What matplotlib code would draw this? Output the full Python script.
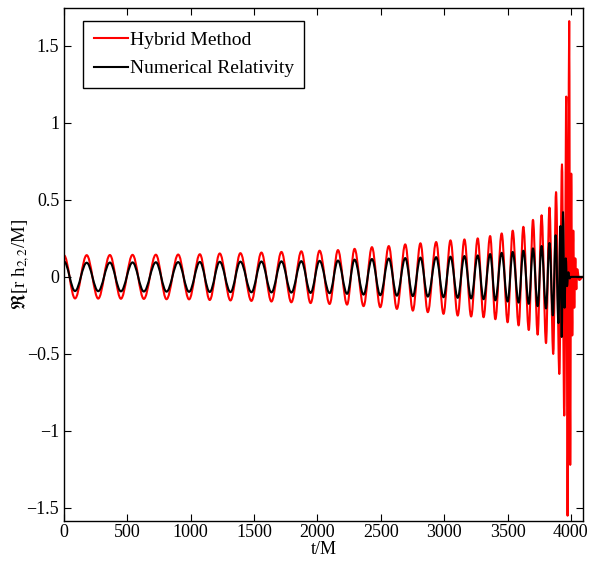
import matplotlib
matplotlib.use("Agg")
import matplotlib.pyplot as plt
from matplotlib.path import Path
from matplotlib.patches import PathPatch
from matplotlib.lines import Line2D

# extrema (peaks / troughs) of the inspiral, t in M
t_inspiral = [0, 87, 179, 270, 362, 449, 541, 630, 725, 809, 901, 987,
              1072, 1150, 1229, 1314, 1392, 1479, 1558, 1637, 1716, 1794,
              1873, 1946, 2017, 2096, 2162, 2234, 2293, 2364, 2430, 2496,
              2563, 2627, 2693, 2753, 2813, 2871, 2937, 2995, 3050, 3107,
              3160, 3213, 3265, 3311, 3363, 3404, 3454, 3501, 3541, 3588,
              3625, 3668, 3701, 3738, 3769, 3804]
hybrid_inspiral = [0.14, -0.14, 0.141, -0.141, 0.142, -0.142, 0.143, -0.143,
                   0.144, -0.145, 0.145, -0.146, 0.147, -0.150, 0.152, -0.153,
                   0.154, -0.156, 0.158, -0.160, 0.162, -0.165, 0.166, -0.170,
                   0.170, -0.176, 0.174, -0.180, 0.182, -0.190, 0.193, -0.197,
                   0.200, -0.208, 0.211, -0.219, 0.218, -0.229, 0.226, -0.240,
                   0.237, -0.251, 0.243, -0.257, 0.250, -0.262, 0.265, -0.275,
                   0.282, -0.295, 0.300, -0.315, 0.325, -0.345, 0.370, -0.375,
                   0.400, -0.430]
nr_inspiral = [0.10, -0.092, 0.092, -0.093, 0.093, -0.094, 0.094, -0.095,
               0.095, -0.096, 0.096, -0.097, 0.097, -0.098, 0.098, -0.099,
               0.099, -0.100, 0.100, -0.101, 0.101, -0.102, 0.102, -0.104,
               0.104, -0.106, 0.106, -0.110, 0.112, -0.115, 0.116, -0.119,
               0.119, -0.122, 0.122, -0.125, 0.125, -0.128, 0.128, -0.132,
               0.131, -0.136, 0.135, -0.140, 0.139, -0.145, 0.148, -0.152,
               0.156, -0.160, 0.162, -0.167, 0.170, -0.175, 0.185, -0.190,
               0.200, -0.205]

# merger / ringdown part
t_hybrid_merger = [3804, 3831, 3861, 3883, 3909, 3930, 3948, 3964, 3974,
                   3987, 3995, 4003, 4011, 4019, 4027, 4035, 4043, 4050,
                   4066, 4095]
hybrid_merger = [-0.430, 0.45, -0.50, 0.55, -0.63, 0.73, -0.90, 1.17, -1.55,
                 1.66, -1.22, 0.67, -0.38, 0.30, -0.20, 0.12, -0.08, 0.05,
                 -0.02, 0.0]
t_nr_merger = [3804, 3831, 3858, 3880, 3902, 3918, 3928, 3938, 3950, 3960,
               3970, 3980, 3990, 4000, 4095]
nr_merger = [-0.205, 0.22, -0.25, 0.27, -0.30, 0.33, -0.39, 0.42, -0.20,
             0.12, -0.06, 0.03, -0.01, 0.0, 0.0]

x_ticks = [0, 500, 1000, 1500, 2000, 2500, 3000, 3500, 4000]
y_ticks = [-1.5, -1, -0.5, 0, 0.5, 1, 1.5]
y_tick_labels = ['\u22121.5', '\u22121', '\u22120.5', '0', '0.5', '1', '1.5']

plt.rcParams['font.family'] = ['Liberation Serif', 'DejaVu Serif']
plt.rcParams['mathtext.fontset'] = 'stix'


def wave_path(t, v, c=0.36):
    """smooth half-waves between consecutive extrema (flat at each extremum)"""
    verts = [(t[0], v[0])]
    codes = [Path.MOVETO]
    for i in range(len(t) - 1):
        dt = t[i + 1] - t[i]
        verts += [(t[i] + c * dt, v[i]), (t[i + 1] - c * dt, v[i + 1]),
                  (t[i + 1], v[i + 1])]
        codes += [Path.CURVE4] * 3
    return Path(verts, codes)


fig = plt.figure(figsize=(5.91, 5.65), dpi=100)
ax = fig.add_axes([0.1083, 0.0780, 0.8782, 0.9078])

hybrid_t = t_inspiral + t_hybrid_merger[1:]
hybrid_v = hybrid_inspiral + hybrid_merger[1:]
nr_t = t_inspiral + t_nr_merger[1:]
nr_v = nr_inspiral + nr_merger[1:]

ax.add_patch(PathPatch(wave_path(hybrid_t, hybrid_v), fill=False,
                       edgecolor='#ff0000', lw=1.5, joinstyle='round'))
ax.add_patch(PathPatch(wave_path(nr_t, nr_v), fill=False,
                       edgecolor='black', lw=1.5, joinstyle='round'))

ax.set_xlim(0, 4096)
ax.set_ylim(-1.584, 1.745)
ax.set_xticks(x_ticks)
ax.set_yticks(y_ticks)
ax.set_yticklabels(y_tick_labels)
ax.tick_params(direction='in', top=True, right=True, length=5, width=0.8,
               labelsize=13)
ax.tick_params(axis='x', pad=2.5)
ax.tick_params(axis='y', pad=3.5)
for s in ax.spines.values():
    s.set_linewidth(1.0)

ax.set_xlabel('t/M', fontsize=13, labelpad=0)
ax.set_ylabel(r'$\Re$[r h$_{2,2}$/M]', fontsize=13.5, labelpad=-4)

handles = [Line2D([], [], color='#ff0000', lw=1.5),
           Line2D([], [], color='black', lw=1.5)]
leg = ax.legend(handles, ['Hybrid Method', 'Numerical Relativity'],
                loc='upper left', bbox_to_anchor=(0.0366, 0.975),
                borderaxespad=0, fontsize=14, fancybox=False, framealpha=1,
                edgecolor='black', handlelength=1.75, handletextpad=0.1,
                borderpad=0.55, labelspacing=0.55)
leg.get_frame().set_linewidth(1.0)

fig.savefig('out.png', dpi=100)
